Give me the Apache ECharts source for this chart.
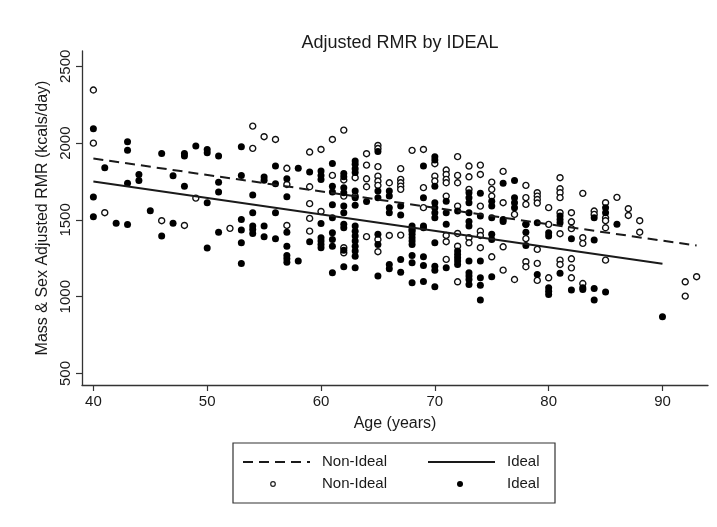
<!DOCTYPE html>
<html><head><meta charset="utf-8">
<script src="https://cdn.jsdelivr.net/npm/echarts@6/dist/echarts.min.js"></script>
<style>html,body{margin:0;padding:0;background:#fff}#c{width:717px;height:527px}</style>
</head><body><div id="c"></div>
<script>
const titleText = "Adjusted RMR by IDEAL";
const xName = "Age (years)";
const yName = "Mass & Sex Adjusted RMR (kcals/day)";
const xTicks = [40, 50, 60, 70, 80, 90];
const yTicks = [500, 1000, 1500, 2000, 2500];
const legendNames = ["Non-Ideal", "Ideal"];

// Ideal group (filled dots): [age, adjusted RMR]
const idealPoints = [
[40,2094],[40,1649],[40,1521],[41,1840],[42,1479],[43,2009],[43,1953],[43,1738],[43,1470],
[44,1796],[44,1757],[45,1560],[46,1933],[46,1395],[47,1788],[47,1479],[48,1933],[48,1916],[48,1720],
[49,1981],[50,1959],[50,1938],[50,1612],[50,1317],[51,1916],[51,1746],[51,1681],[51,1420],
[53,1977],[53,1790],[53,1503],[53,1434],[53,1351],[53,1217],
[54,1662],[54,1547],[54,1460],[54,1438],[54,1412],[55,1779],[55,1759],[55,1460],[55,1391],
[56,1851],[56,1736],[56,1547],[56,1378],[57,1768],[57,1651],[57,1420],[57,1329],[57,1269],[57,1247],[57,1225],
[58,1836],[58,1232],[59,1812],[59,1358],
[60,1818],[60,1790],[60,1764],[60,1477],[60,1384],[60,1362],[60,1340],[60,1319],
[61,1868],[61,1720],[61,1681],[61,1599],[61,1514],[61,1417],[61,1373],[61,1329],[61,1156],
[62,1803],[62,1781],[62,1710],[62,1677],[62,1590],[62,1547],[62,1471],[62,1449],[62,1303],[62,1195],
[63,1883],[63,1862],[63,1834],[63,1808],[63,1688],[63,1645],[63,1595],[63,1460],[63,1427],[63,1395],[63,1362],[63,1329],[63,1297],[63,1264],[63,1188],
[64,1620],[65,1945],[65,1688],[65,1645],[65,1406],[65,1340],[65,1134],
[66,1688],[66,1655],[66,1580],[66,1547],[66,1210],[66,1182],
[67,1590],[67,1532],[67,1243],[67,1160],
[68,1460],[68,1427],[68,1406],[68,1384],[68,1362],[68,1340],[68,1269],[68,1221],[68,1091],
[69,1851],[69,1645],[69,1460],[69,1449],[69,1260],[69,1203],[69,1099],
[70,1912],[70,1890],[70,1720],[70,1612],[70,1580],[70,1547],[70,1514],[70,1351],[70,1199],[70,1173],[70,1065],
[71,1622],[71,1547],[71,1471],[71,1188],
[72,1558],[72,1297],[72,1275],[72,1254],[72,1232],[72,1210],
[73,1677],[73,1645],[73,1612],[73,1547],[73,1490],[73,1460],[73,1232],[73,1156],[73,1134],[73,1112],[73,1080],
[74,1673],[74,1525],[74,1232],[74,1123],[74,1075],[74,978],
[75,1622],[75,1590],[75,1514],[75,1406],[75,1373],[75,1130],
[76,1738],[76,1503],[76,1490],[77,1757],[77,1645],[77,1612],[77,1580],
[78,1471],[78,1420],[78,1334],[79,1482],[79,1145],
[80,1417],[80,1395],[80,1058],[80,1036],[80,1014],
[81,1525],[81,1503],[81,1482],[81,1152],[82,1378],[82,1043],[83,1058],[83,1047],
[84,1514],[84,1369],[84,1054],[84,978],[85,1580],[85,1547],[85,1030],[86,1471],[90,869]
];

// Non-Ideal group (open circles): [age, adjusted RMR]
const nonIdealPoints = [
[40,2346],[40,2000],[41,1547],[46,1495],[48,1464],[49,1642],[52,1445],
[54,2111],[54,1966],[55,2042],[56,2024],[57,1836],[57,1731],[57,1464],
[59,1942],[59,1716],[59,1606],[59,1510],[59,1427],[60,1959],[60,1555],[61,2024],[61,1790],
[62,2085],[62,1760],[62,1655],[62,1319],[62,1286],[63,1775],[63,1655],
[64,1931],[64,1857],[64,1768],[64,1716],[64,1391],
[65,1985],[65,1965],[65,1847],[65,1785],[65,1753],[65,1725],[65,1373],[65,1293],
[66,1742],[66,1399],[67,1834],[67,1764],[67,1742],[67,1720],[67,1699],[67,1401],
[68,1953],[68,1438],[69,1959],[69,1710],[69,1580],[70,1866],[70,1785],[70,1753],
[71,1825],[71,1796],[71,1764],[71,1742],[71,1655],[71,1399],[71,1358],[71,1243],
[72,1912],[72,1790],[72,1742],[72,1590],[72,1412],[72,1329],[72,1097],
[73,1851],[73,1781],[73,1699],[73,1384],[73,1351],
[74,1857],[74,1796],[74,1590],[74,1427],[74,1399],[74,1319],
[75,1746],[75,1699],[75,1655],[75,1260],[76,1816],[76,1612],[76,1325],[76,1173],
[77,1536],[77,1112],[78,1725],[78,1645],[78,1601],[78,1471],[78,1378],[78,1228],[78,1195],
[79,1677],[79,1655],[79,1633],[79,1610],[79,1308],[79,1217],[79,1106],
[80,1580],[80,1471],[80,1123],
[81,1775],[81,1703],[81,1677],[81,1645],[81,1547],[81,1410],[81,1238],[81,1210],
[82,1547],[82,1488],[82,1443],[82,1247],[82,1188],[82,1123],
[83,1673],[83,1384],[83,1347],[83,1086],[84,1558],[84,1536],
[85,1612],[85,1514],[85,1495],[85,1449],[85,1238],[86,1647],[87,1573],[87,1529],
[88,1495],[88,1420],[92,1097],[92,1004],[93,1130]
];

// Fitted regression lines (endpoints)
const nonIdealFit = [[40,1900],[93,1333]];
const idealFit = [[40,1750],[90,1215]];

const FONT = "Liberation Sans, Arial, Helvetica, sans-serif";
const INK = "#1a1a1a";
const chart = echarts.init(document.getElementById('c'), null, {renderer:'canvas'});
const legendY1 = 462, legendY2 = 484;
chart.setOption({
  animation:false,
  backgroundColor:'#fff',
  title:{text:titleText,left:395,top:29,textAlign:'center',
    textStyle:{fontFamily:FONT,fontSize:18,fontWeight:'normal',color:INK}},
  grid:{left:82,right:9,top:51,bottom:142,containLabel:false},
  xAxis:{type:'value',min:39,max:94,name:xName,nameLocation:'middle',nameGap:31,
    nameTextStyle:{fontFamily:FONT,fontSize:16,color:INK},
    axisLine:{show:true,onZero:false,lineStyle:{color:'#333',width:1.3}},
    axisTick:{show:true,length:6,customValues:xTicks,lineStyle:{color:'#333',width:1.2}},
    axisLabel:{customValues:xTicks,margin:9,fontFamily:FONT,fontSize:15,color:INK,
      formatter:v=>String(v)},
    splitLine:{show:false}},
  yAxis:{type:'value',min:425,max:2600,name:yName,nameLocation:'middle',nameGap:30,
    nameTextStyle:{fontFamily:FONT,fontSize:16,color:INK},
    axisLine:{show:true,onZero:false,lineStyle:{color:'#333',width:1.3}},
    axisTick:{show:true,length:6,customValues:yTicks,lineStyle:{color:'#333',width:1.2}},
    axisLabel:{customValues:yTicks,rotate:90,margin:9,fontFamily:FONT,fontSize:15,color:INK,
      formatter:v=>String(v)},
    splitLine:{show:false}},
  series:[
    {name:'Non-Ideal fit',type:'line',data:nonIdealFit,symbol:'none',z:3,
      lineStyle:{color:INK,width:2,type:[10,6]}},
    {name:'Ideal fit',type:'line',data:idealFit,symbol:'none',z:3,
      lineStyle:{color:INK,width:2}},
    {name:'Non-Ideal',type:'scatter',data:nonIdealPoints,symbol:'circle',symbolSize:6,z:2,
      itemStyle:{color:'#fff',borderColor:'#111',borderWidth:1.4,opacity:1}},
    {name:'Ideal',type:'scatter',data:idealPoints,symbol:'circle',symbolSize:7,z:2,
      itemStyle:{color:'#000',opacity:1}}
  ],
  graphic:[
    {type:'rect',shape:{x:233,y:443,width:322,height:60},style:{fill:'#fff',stroke:'#333',lineWidth:1.2}},
    {type:'line',shape:{x1:243,y1:legendY1,x2:310,y2:legendY1},style:{stroke:INK,lineWidth:2,lineDash:[10,6]}},
    {type:'text',x:322,y:legendY1,style:{text:legendNames[0],font:'15px '+FONT,fill:INK,verticalAlign:'middle'}},
    {type:'line',shape:{x1:428,y1:legendY1,x2:495,y2:legendY1},style:{stroke:INK,lineWidth:2}},
    {type:'text',x:507,y:legendY1,style:{text:legendNames[1],font:'15px '+FONT,fill:INK,verticalAlign:'middle'}},
    {type:'circle',shape:{cx:273,cy:legendY2,r:2.3},style:{fill:'#fff',stroke:'#222',lineWidth:1.2}},
    {type:'text',x:322,y:legendY2,style:{text:legendNames[0],font:'15px '+FONT,fill:INK,verticalAlign:'middle'}},
    {type:'circle',shape:{cx:460,cy:legendY2,r:3},style:{fill:'#000'}},
    {type:'text',x:507,y:legendY2,style:{text:legendNames[1],font:'15px '+FONT,fill:INK,verticalAlign:'middle'}}
  ]
});
</script></body></html>
